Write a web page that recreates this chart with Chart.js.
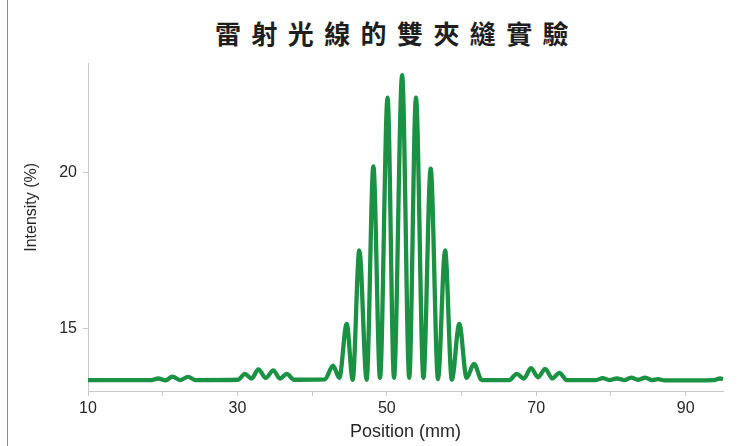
<!DOCTYPE html>
<html>
<head>
<meta charset="utf-8">
<title>雷射光線的雙夾縫實驗</title>
<script src="https://cdn.jsdelivr.net/npm/chart.js@4.4.1/dist/chart.umd.min.js"></script>
<style>
  html, body { margin: 0; padding: 0; background: #ffffff; }
  #wrap { position: relative; width: 742px; height: 446px; overflow: hidden; background: #ffffff; }
  #edge { position: absolute; left: 7px; top: 0; width: 1px; height: 446px; background: #8c8c8c; }
  #title {
    position: absolute; left: 215px; top: 19px; white-space: nowrap;
    font-family: "Noto Sans CJK TC", "Noto Sans CJK SC", sans-serif;
    font-weight: 700; font-size: 26px; line-height: 28px; letter-spacing: 10.4px; color: #1e1e1e;
  }
  canvas { position: absolute; left: 0; top: 0; }
</style>
</head>
<body>
<div id="wrap">
  <div id="edge"></div>
  <div id="title">雷射光線的雙夾縫實驗</div>
  <canvas id="chart" width="742" height="446"></canvas>
</div>
<script>
// Measured intensity profile across the screen (peaks and troughs of the fringes)
const positionMm = [
  10, 18.5, 19.4, 20.4, 21.3, 22.3, 23.4, 24.4,
  30.1, 31.0, 31.9, 32.8, 33.8, 34.8, 35.7, 36.6, 37.6,
  41.7, 42.8, 43.64, 44.63, 45.43, 46.32, 47.3, 48.2, 49.09, 50.1, 50.96,
  52.05, 53.0, 53.9, 54.9, 55.87, 56.85, 57.8, 58.7, 59.7, 60.68, 61.67, 62.7,
  66.4, 67.4, 68.35, 69.3, 70.25, 71.2, 72.15, 73.1, 74.1,
  78.0, 78.9, 79.8, 80.8, 81.8, 82.7, 83.6, 84.6, 85.5, 86.3, 87.2,
  93.8, 94.6, 95
];
const intensityPct = [
  13.35, 13.35, 13.40, 13.34, 13.46, 13.35, 13.45, 13.35,
  13.36, 13.55, 13.40, 13.69, 13.42, 13.66, 13.40, 13.55, 13.36,
  13.37, 13.81, 13.42, 15.15, 13.36, 17.50, 13.36, 20.19, 13.42, 22.39, 13.42,
  23.11, 13.42, 22.39, 13.42, 20.12, 13.38, 17.50, 13.36, 15.15, 13.42, 13.87, 13.35,
  13.35, 13.55, 13.40, 13.73, 13.44, 13.71, 13.40, 13.58, 13.35,
  13.35, 13.41, 13.35, 13.40, 13.35, 13.43, 13.36, 13.43, 13.35, 13.38, 13.34,
  13.35, 13.40, 13.38
];

// Axis ticks and titles
const xTickLabels = [10, 30, 50, 70, 90];
const xMinorTicks = [20, 40, 60, 80];
const yTickLabels = [15, 20];
const xAxisTitle = 'Position (mm)';
const yAxisTitle = 'Intensity (%)';

const textColor = '#262626';
const axisColor = '#c9c9c9';
const fontFamily = '"Liberation Sans", Arial, Helvetica, sans-serif';

const points = positionMm.map((x, i) => ({ x: x, y: intensityPct[i] }));
const xTicksAll = xTickLabels.concat(xMinorTicks).sort((a, b) => a - b);

// Vertical axis title, set a little above the middle of the plot area
const yTitlePlugin = {
  id: 'yTitle',
  afterDraw(chart) {
    const ctx = chart.ctx;
    const area = chart.chartArea;
    ctx.save();
    ctx.translate(32, area.top + (area.bottom - area.top) * 0.44);
    ctx.rotate(-Math.PI / 2);
    ctx.font = '16px ' + fontFamily;
    ctx.fillStyle = textColor;
    ctx.textAlign = 'center';
    ctx.textBaseline = 'middle';
    ctx.fillText(yAxisTitle, 0, 0);
    ctx.restore();
  }
};

new Chart(document.getElementById('chart'), {
  type: 'line',
  data: {
    datasets: [{
      data: points,
      borderColor: '#1b9143',
      borderWidth: 4.3,
      pointRadius: 0,
      fill: false,
      cubicInterpolationMode: 'monotone',
      clip: false
    }]
  },
  options: {
    responsive: false,
    animation: false,
    devicePixelRatio: 1,
    layout: { padding: { left: 0, right: 19, top: 63, bottom: 0 } },
    plugins: {
      legend: { display: false },
      tooltip: { enabled: false },
      title: { display: false }
    },
    scales: {
      x: {
        type: 'linear',
        min: 10,
        max: 95,
        afterBuildTicks: (s) => { s.ticks = xTicksAll.map(v => ({ value: v })); },
        afterFit: (s) => { s.height = 55; },
        ticks: {
          autoSkip: false,
          maxRotation: 0,
          padding: 3,
          color: textColor,
          font: { family: fontFamily, size: 16 },
          callback: (v) => xTickLabels.includes(v) ? String(v) : ''
        },
        grid: { display: true, drawOnChartArea: false, drawTicks: true, tickLength: 5, color: axisColor },
        border: { display: true, color: axisColor, width: 1 },
        title: {
          display: true,
          text: xAxisTitle,
          color: textColor,
          font: { family: fontFamily, size: 18 },
          padding: { top: 0, bottom: 3 }
        }
      },
      y: {
        type: 'linear',
        min: 13,
        max: 23.5,
        afterBuildTicks: (s) => { s.ticks = yTickLabels.map(v => ({ value: v })); },
        afterFit: (s) => { s.width = 88; },
        ticks: {
          padding: 6,
          color: textColor,
          font: { family: fontFamily, size: 16 },
          callback: (v) => String(v)
        },
        grid: { display: true, drawOnChartArea: false, drawTicks: true, tickLength: 5, color: axisColor },
        border: { display: true, color: axisColor, width: 1 },
        title: { display: false }
      }
    }
  },
  plugins: [yTitlePlugin]
});
</script>
</body>
</html>
